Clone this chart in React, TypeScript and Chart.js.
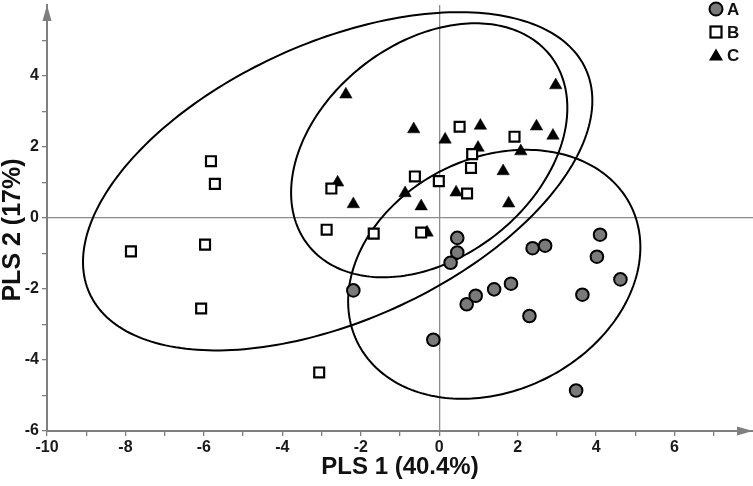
import React, { useEffect, useRef } from 'react';
import { Chart, registerables } from 'chart.js';

Chart.register(...registerables);

// ---- data (PLS scores) ----
const seriesNames = ['A', 'B', 'C'];

const aX = [-2.19, -0.15, 0.46, 0.46, 0.29, 0.70, 0.93, 1.40, 1.83, 2.30, 2.38, 2.70, 4.10, 4.02, 3.65, 4.62, 3.49];
const aY = [-2.04, -3.43, -0.56, -0.97, -1.26, -2.43, -2.19, -2.01, -1.85, -2.76, -0.85, -0.78, -0.47, -1.09, -2.16, -1.73, -4.86];

const bX = [-5.82, -5.72, -7.86, -5.97, -6.07, -3.06, -2.75, -2.87, -1.67, -0.46, -0.62, -0.01, 0.71, 0.81, 0.84, 0.52, 1.92];
const bY = [1.60, 0.96, -0.94, -0.75, -2.55, -4.35, 0.83, -0.33, -0.44, -0.41, 1.17, 1.04, 0.69, 1.41, 1.80, 2.57, 2.29];

const cX = [-2.38, -0.65, 0.15, 1.05, 0.99, 2.08, 2.48, 2.90, 2.97, 1.63, 1.77, -2.59, -2.19, -0.87, -0.46, 0.43, -0.31];
const cY = [3.48, 2.50, 2.21, 2.60, 1.98, 1.88, 2.58, 2.32, 3.74, 1.32, 0.41, 1.00, 0.39, 0.70, 0.33, 0.72, -0.41];

// confidence ellipses (data units): centre and two conjugate semi-axis vectors, order A, B, C
const ellCenterX = [1.403, -2.589, -0.255];
const ellCenterY = [-1.586, 1.034, 1.907];
const ellU_X = [3.477, 6.327, 3.090];
const ellU_Y = [1.941, 3.155, 2.665];
const ellV_X = [1.337, 1.459, 1.689];
const ellV_Y = [-2.921, -3.569, -2.386];

// axes
const xMin = -10, xMax = 8;
const yMin = -6, yMax = 6;
const xLabelMax = 6;
const yLabelMax = 4;
const xTitle = 'PLS 1 (40.4%)';
const yTitle = 'PLS 2 (17%)';

const FONT = "'Liberation Sans', Arial, Helvetica, sans-serif";
const AXIS_GREY = '#7f7f7f';

const toPts = (xs: number[], ys: number[]) => xs.map((x, i) => ({ x, y: ys[i] }));

const ellipsePlugin = {
  id: 'ellipses',
  beforeDatasetsDraw(chart: any) {
    const { ctx, scales } = chart;
    const xs = scales.x, ys = scales.y;
    ctx.save();
    ctx.strokeStyle = '#000';
    ctx.lineWidth = 2;
    for (let k = 0; k < ellCenterX.length; k++) {
      ctx.beginPath();
      const n = 240;
      for (let i = 0; i <= n; i++) {
        const t = (i / n) * Math.PI * 2;
        const dx = ellCenterX[k] + ellU_X[k] * Math.cos(t) + ellV_X[k] * Math.sin(t);
        const dy = ellCenterY[k] + ellU_Y[k] * Math.cos(t) + ellV_Y[k] * Math.sin(t);
        const px = xs.getPixelForValue(dx);
        const py = ys.getPixelForValue(dy);
        if (i === 0) ctx.moveTo(px, py);
        else ctx.lineTo(px, py);
      }
      ctx.closePath();
      ctx.stroke();
    }
    ctx.restore();
  },
};

const arrowLegendPlugin = {
  id: 'arrowsLegend',
  afterDraw(chart: any) {
    const { ctx, chartArea } = chart;
    ctx.save();
    // arrowheads
    ctx.fillStyle = AXIS_GREY;
    ctx.beginPath();
    ctx.moveTo(chartArea.right, chartArea.bottom);
    ctx.lineTo(chartArea.right - 16, chartArea.bottom - 4.5);
    ctx.lineTo(chartArea.right - 16, chartArea.bottom + 4.5);
    ctx.closePath();
    ctx.fill();
    ctx.beginPath();
    ctx.moveTo(chartArea.left, chartArea.top);
    ctx.lineTo(chartArea.left - 4.5, chartArea.top + 16);
    ctx.lineTo(chartArea.left + 4.5, chartArea.top + 16);
    ctx.closePath();
    ctx.fill();

    // y axis title
    ctx.save();
    ctx.translate(13, 230);
    ctx.rotate(-Math.PI / 2);
    ctx.font = `bold 25px ${FONT}`;
    ctx.fillStyle = '#111';
    ctx.textAlign = 'center';
    ctx.textBaseline = 'middle';
    ctx.fillText(yTitle, 0, 0);
    ctx.restore();

    // legend
    const mx = 716;
    const tx = 727;
    const y0 = 9;
    const dy = 23;
    ctx.font = `bold 17px ${FONT}`;
    ctx.textBaseline = 'middle';
    ctx.textAlign = 'left';
    seriesNames.forEach((name, i) => {
      const y = y0 + i * dy;
      ctx.lineWidth = 2;
      ctx.strokeStyle = '#000';
      if (i === 0) {
        ctx.beginPath();
        ctx.arc(mx, y, 6.5, 0, Math.PI * 2);
        ctx.fillStyle = '#7a7a7a';
        ctx.fill();
        ctx.stroke();
      } else if (i === 1) {
        ctx.fillStyle = '#fff';
        ctx.fillRect(mx - 5.5, y - 5.5, 11, 11);
        ctx.lineWidth = 2.2;
        ctx.strokeRect(mx - 5.5, y - 5.5, 11, 11);
      } else {
        ctx.beginPath();
        ctx.moveTo(mx, y - 6.5);
        ctx.lineTo(mx + 7, y + 5.5);
        ctx.lineTo(mx - 7, y + 5.5);
        ctx.closePath();
        ctx.fillStyle = '#000';
        ctx.fill();
      }
      ctx.fillStyle = '#111';
      ctx.fillText(name, tx, y + 1);
    });
    ctx.restore();
  },
};

export default function App() {
  const ref = useRef<HTMLCanvasElement>(null);

  useEffect(() => {
    document.body.style.margin = '0';
    const canvas = ref.current;
    if (!canvas) return;
    const chart = new Chart(canvas, {
      type: 'scatter',
      data: {
        datasets: [
          {
            label: seriesNames[0],
            data: toPts(aX, aY),
            pointStyle: 'circle',
            pointRadius: 6.3,
            pointBorderWidth: 2,
            pointBackgroundColor: '#7a7a7a',
            pointBorderColor: '#000',
          },
          {
            label: seriesNames[1],
            data: toPts(bX, bY),
            pointStyle: 'rect',
            pointRadius: 7,
            pointBorderWidth: 2.2,
            pointBackgroundColor: '#fff',
            pointBorderColor: '#000',
          },
          {
            label: seriesNames[2],
            data: toPts(cX, cY),
            pointStyle: 'triangle',
            pointRadius: 7.2,
            pointBorderWidth: 0.5,
            pointBackgroundColor: '#000',
            pointBorderColor: '#000',
          },
        ],
      },
      options: {
        responsive: false,
        animation: false,
        devicePixelRatio: 1,
        layout: { autoPadding: false, padding: { top: 5, left: 0, right: 0, bottom: 0 } },
        plugins: {
          legend: { display: false },
          tooltip: { enabled: false },
        },
        scales: {
          x: {
            type: 'linear',
            position: 'bottom',
            min: xMin,
            max: xMax,
            afterFit: (s: any) => {
              s.height = 55;
              s.paddingLeft = 0;
              s.paddingRight = 0;
            },
            ticks: {
              stepSize: 1,
              autoSkip: false,
              maxRotation: 0,
              padding: 2,
              color: '#1a1a1a',
              font: { family: FONT, size: 16, weight: 'bold' },
              callback: (v: any) => (Number(v) % 2 === 0 && Number(v) <= xLabelMax ? String(v) : ''),
            },
            grid: {
              drawOnChartArea: true,
              color: (c: any) => (c.tick && c.tick.value === 0 ? '#8c8c8c' : 'rgba(0,0,0,0)'),
              lineWidth: 1.3,
              tickLength: 5,
              tickWidth: 1.3,
              tickColor: (c: any) => (c.tick && c.tick.value >= xMax ? 'rgba(0,0,0,0)' : AXIS_GREY),
            },
            border: { display: true, color: AXIS_GREY, width: 2 },
            title: {
              display: true,
              text: xTitle,
              color: '#111',
              font: { family: FONT, size: 24, weight: 'bold', lineHeight: 1.2 },
              padding: { top: 0, bottom: 4 },
            },
          },
          y: {
            type: 'linear',
            min: yMin,
            max: yMax,
            afterFit: (s: any) => {
              s.width = 47;
              s.paddingTop = 0;
              s.paddingBottom = 0;
            },
            ticks: {
              stepSize: 1,
              autoSkip: false,
              padding: 3,
              color: '#1a1a1a',
              font: { family: FONT, size: 16, weight: 'bold' },
              callback: (v: any) => (Number(v) % 2 === 0 && Number(v) <= yLabelMax ? String(v) : ''),
            },
            grid: {
              drawOnChartArea: true,
              color: (c: any) => (c.tick && c.tick.value === 0 ? '#8c8c8c' : 'rgba(0,0,0,0)'),
              lineWidth: 1.3,
              tickLength: 5,
              tickWidth: 1.3,
              tickColor: (c: any) => (c.tick && c.tick.value >= yMax ? 'rgba(0,0,0,0)' : AXIS_GREY),
            },
            border: { display: true, color: AXIS_GREY, width: 2 },
            title: { display: false, text: yTitle },
          },
        },
      },
      plugins: [ellipsePlugin, arrowLegendPlugin],
    });
    return () => chart.destroy();
  }, []);

  return (
    <div style={{ width: 753, height: 486 }}>
      <canvas ref={ref} width={753} height={486} style={{ display: 'block' }} />
    </div>
  );
}
